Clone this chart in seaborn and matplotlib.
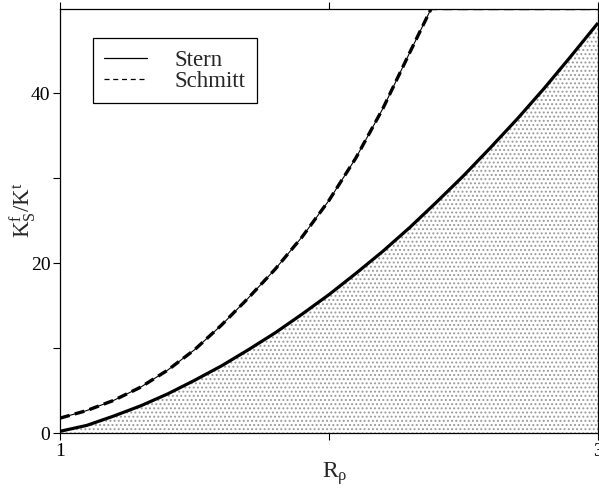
import numpy as np
import pandas as pd
import matplotlib
matplotlib.use("Agg")
import matplotlib.pyplot as plt
from matplotlib.lines import Line2D
import seaborn as sns

# Density ratio values and flux ratios for the two regimes
r_stern = [1.0, 1.1, 1.2, 1.3, 1.4, 1.5, 1.6, 1.7, 1.8, 1.9, 2.0,
           2.1, 2.2, 2.3, 2.4, 2.5, 2.6, 2.7, 2.8, 2.9, 3.0]
k_stern = [0.2, 0.9, 2.0, 3.2, 4.6, 6.2, 7.9, 9.8, 11.8, 14.0, 16.3,
           18.8, 21.4, 24.2, 27.2, 30.3, 33.6, 37.0, 40.6, 44.4, 48.3]

r_schmitt = [1.0, 1.1, 1.2, 1.3, 1.4, 1.5, 1.6, 1.7, 1.8, 1.9, 2.0,
             2.1, 2.2, 2.3, 2.38, 3.0]
k_schmitt = [1.75, 2.65, 3.85, 5.4, 7.4, 9.8, 12.7, 15.9, 19.3, 23.1, 27.4,
             32.4, 38.2, 44.8, 50.0, 50.0]

x_ticks = [1, 2, 3]
x_labels = ["1", "", "3"]
y_ticks = [0, 10, 20, 30, 40]
y_labels = ["0", "", "20", "", "40"]

sns.set_style("ticks")
plt.rcParams["font.family"] = ["Liberation Serif", "DejaVu Serif"]
plt.rcParams["mathtext.fontset"] = "custom"
plt.rcParams["mathtext.rm"] = "Liberation Serif"
plt.rcParams["mathtext.it"] = "Liberation Serif:italic"
plt.rcParams["hatch.linewidth"] = 0.9
plt.rcParams["hatch.color"] = "#9a9a9a"

stern = pd.DataFrame({"R": r_stern, "K": k_stern})
schmitt = pd.DataFrame({"R": r_schmitt, "K": k_schmitt})

fig = plt.figure(figsize=(5.99, 4.92), dpi=100)
ax = fig.add_axes([60 / 599, 59 / 492, 538 / 599, 424.5 / 492])

# stippled region below the Stern curve
ax.fill_between(stern["R"], 0, stern["K"], facecolor="white",
                edgecolor="#9a9a9a", hatch="....", linewidth=0, zorder=1)

sns.lineplot(data=stern, x="R", y="K", ax=ax, color="black", lw=2.3,
             solid_capstyle="butt", zorder=3)
sns.lineplot(data=schmitt, x="R", y="K", ax=ax, color="black", lw=0.8, zorder=3)
sns.lineplot(data=schmitt, x="R", y="K", ax=ax, color="black", lw=2.4,
             dashes=False, linestyle=(0, (3.0, 1.6)), zorder=3)

ax.set_xlim(1, 3)
ax.set_ylim(0, 50)
ax.set_xticks(x_ticks)
ax.set_xticklabels(x_labels)
ax.set_yticks(y_ticks)
ax.set_yticklabels(y_labels)
ax.tick_params(axis="both", direction="out", length=5, width=0.8,
               labelsize=14, colors="black", pad=2)
ax.tick_params(axis="x", top=True)

for side in ["left", "right", "top", "bottom"]:
    ax.spines[side].set_visible(True)
    ax.spines[side].set_linewidth(0.9)
    ax.spines[side].set_color("black")

ax.set_xlabel(r"$\mathrm{R_{\rho}}$", fontsize=17)
ax.set_ylabel(r"$\mathrm{K^{f}_{S}/K^{t}}$", fontsize=16.5)
ax.xaxis.set_label_coords(0.51, -0.065)
ax.yaxis.set_label_coords(-0.041, 0.525)

handles = [Line2D([], [], color="black", lw=0.9),
           Line2D([], [], color="black", lw=0.9, linestyle=(0, (4, 3)))]
leg = ax.legend(handles, ["Stern", "Schmitt"], loc="upper left",
                bbox_to_anchor=(0.061, 0.930), borderaxespad=0,
                fontsize=16.5, handlelength=1.85, handletextpad=1.2,
                labelspacing=0.0, borderpad=0.5, fancybox=False,
                frameon=True, edgecolor="black", framealpha=1)
leg.get_frame().set_linewidth(0.9)

fig.savefig("out.png", dpi=100)
